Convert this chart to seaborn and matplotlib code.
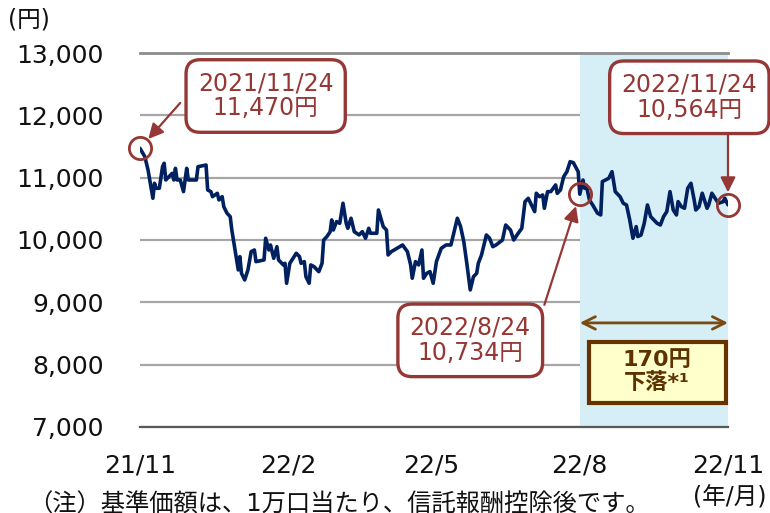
import pandas as pd
import matplotlib
matplotlib.use("Agg")
import matplotlib.pyplot as plt
from matplotlib.patches import Rectangle
import matplotlib.ticker as mticker
import seaborn as sns

# Data: days since 2021/11/24, NAV in yen
start_date = "2021-11-24"
day_offsets = [0, 3, 5, 8, 9, 10, 12, 14, 15, 16, 20, 21, 22, 23, 25, 27, 29, 30, 35, 36,
               41, 42, 44, 45, 48, 49, 51, 52, 54, 56, 57, 59, 61, 62, 63, 65, 67, 69, 71, 72,
               77, 78, 80, 81, 83, 85, 86, 89, 90, 91, 93, 95, 97, 99, 100, 102, 103, 105, 106, 108,
               111, 113, 114, 116, 118, 119, 120, 122, 124, 126, 128, 129, 131, 133, 136, 138, 140, 142, 143, 147,
               148, 151, 153, 154, 156, 163, 166, 168, 169, 171, 173, 175, 176, 178, 180, 182, 184, 187, 190, 193,
               197, 199, 201, 203, 205, 207, 209, 210, 212, 215, 217, 219, 221, 225, 227, 230, 232, 234, 237, 239,
               241, 243, 245, 246, 248, 250, 251, 253, 255, 258, 259, 261, 263, 265, 267, 269, 272, 273, 275, 276,
               277, 279, 281, 284, 286, 287, 291, 293, 295, 298, 300, 302, 304, 306, 308, 309, 311, 313, 315, 317,
               321, 323, 325, 327, 329, 331, 333, 334, 336, 338, 340, 342, 344, 345, 347, 349, 352, 353, 355, 357,
               359, 362, 363, 365]
nav = [11470, 11337, 11123, 10669, 10910, 10830, 10830, 11176, 11231, 10963, 11070, 10963, 11150, 10963, 10963, 10776, 11150, 10963, 10963, 11176,
       11203, 10803, 10776, 10695, 10749, 10642, 10695, 10535, 10430, 10375, 10160, 9840, 9520, 9733, 9466, 9359, 9520, 9813, 9840, 9653,
       9680, 10028, 9840, 9920, 9706, 9893, 9680, 9600, 9626, 9306, 9626, 9706, 9787, 9733, 9626, 9653, 9412, 9306, 9600, 9573,
       9492, 9626, 10000, 10055, 10130, 10322, 10160, 10295, 10268, 10590, 10268, 10188, 10349, 10134, 10081, 10134, 10028, 10188, 10108, 10108,
       10482, 10215, 10160, 9760, 9813, 9920, 9813, 9600, 9386, 9653, 9600, 9840, 9386, 9466, 9493, 9306, 9653, 9867, 9920, 9920,
       10349, 10215, 9973, 9600, 9199, 9412, 9466, 9626, 9760, 10081, 10028, 9893, 9920, 10000, 10241, 10160, 10000, 10080, 10188, 10615,
       10669, 10562, 10455, 10750, 10695, 10722, 10509, 10776, 10776, 10883, 10749, 10803, 11016, 11096, 11257, 11240, 11096, 10734, 10963, 10830,
       10880, 10642, 10562, 10430, 10402, 10937, 10990, 11096, 10776, 10695, 10589, 10562, 10322, 10028, 10215, 10055, 10080, 10268, 10562, 10375,
       10268, 10241, 10375, 10455, 10776, 10482, 10402, 10616, 10535, 10509, 10830, 10910, 10642, 10482, 10535, 10750, 10509, 10562, 10750, 10669,
       10589, 10615, 10669, 10564]

tick_dates = ["2021-11-24", "2022-02-24", "2022-05-24", "2022-08-24", "2022-11-24"]
tick_labels = ["21/11", "22/2", "22/5", "22/8", "22/11"]

points = ["2021-11-24", "2022-08-24", "2022-11-24"]
point_values = [11470, 10734, 10564]
point_labels = ["2021/11/24\n11,470円", "2022/8/24\n10,734円", "2022/11/24\n10,564円"]
drop_label = "170円\n下落*¹"

df = pd.DataFrame({"date": pd.Timestamp(start_date) + pd.to_timedelta(day_offsets, unit="D"),
                   "nav": nav})

sns.set_style("white")
plt.rcParams["font.family"] = ["DejaVu Sans", "Noto Sans CJK JP"]

red = "#953735"
brown = "#7A4A10"

fig = plt.figure(figsize=(7.7, 5.13), dpi=100)
ax = fig.add_axes([140/770, 86/513, 588/770, 374/513])

ax.axvspan(pd.Timestamp(points[1]), pd.Timestamp(points[2]), color="#D6EEF5", zorder=1, lw=0)
sns.lineplot(data=df, x="date", y="nav", ax=ax, color="#002060", lw=2.6, zorder=3)

ax.set_xlim(pd.Timestamp(tick_dates[0]), pd.Timestamp(tick_dates[-1]))
ax.set_ylim(7000, 13000)
ax.set_xlabel("")
ax.set_ylabel("")
ax.set_yticks(range(7000, 13001, 1000))
ax.yaxis.set_major_formatter(mticker.FuncFormatter(lambda v, p: f"{int(v):,}"))
ax.set_xticks(pd.to_datetime(tick_dates))
ax.set_xticklabels(tick_labels)
ax.tick_params(axis="y", length=0, pad=26, labelsize=18, labelcolor="#111")
ax.tick_params(axis="x", direction="in", length=7, width=1.2, color="#555",
               pad=19, labelsize=18, labelcolor="#111")
ax.set_axisbelow(True)
ax.grid(axis="y", color="#A6A6A6", lw=1.6)
ax.grid(axis="x", visible=False)
for s in ["left", "right"]:
    ax.spines[s].set_visible(False)
ax.spines["top"].set_color("#8C8C8C")
ax.spines["top"].set_linewidth(2)
ax.spines["bottom"].set_color("#595959")
ax.spines["bottom"].set_linewidth(1.6)

# circles on highlighted points
ax.plot(pd.to_datetime(points), point_values, "o", ms=16, mfc="none", mec=red, mew=2, zorder=5,
        clip_on=False)

# callout boxes
box = dict(boxstyle="round,pad=0.5,rounding_size=0.6", fc="white", ec=red, lw=2.4)
text_pos = [("2022-02-10", 12310), ("2022-06-17", 8390), ("2022-10-31", 12290)]
for (td, tv), lab in zip(text_pos, point_labels):
    ax.text(pd.Timestamp(td), tv, lab, ha="center", va="center", fontsize=17, color=red,
            linespacing=1.05, bbox=box, zorder=7, clip_on=False)

# arrows from box edges to the circles
arrow = dict(arrowstyle="-|>,head_length=0.9,head_width=0.45", color=red, lw=1.6, shrinkA=0, shrinkB=9)
arrow_starts = [("2021-12-19", 12200), ("2022-08-02", 8960), ("2022-11-24", 11770)]
for (d, v), (sd, sv) in zip(zip(points, point_values), arrow_starts):
    ax.annotate("", xy=(pd.Timestamp(d), v), xytext=(pd.Timestamp(sd), sv),
                arrowprops=arrow, zorder=6, annotation_clip=False)

# double arrow over the shaded period
ax.annotate("", xy=(pd.Timestamp(points[2]), 8670), xytext=(pd.Timestamp(points[1]), 8670),
            arrowprops=dict(arrowstyle="<->,head_length=0.9,head_width=0.45", color=brown, lw=2,
                            shrinkA=0, shrinkB=0), zorder=6)
fig.add_artist(Rectangle((589/770, (513-403)/513), 137/770, 61/513, transform=fig.transFigure,
                         fc="#FFFFCC", ec="#663300", lw=3, zorder=6))
fig.text(657/770, (513-372)/513, drop_label, ha="center", va="center", fontsize=16,
         fontweight="bold", color="#5C3300", linespacing=1.2, zorder=7)

fig.text(8/770, (513-19)/513, "(円)", ha="left", va="center", fontsize=17, color="#111")
fig.text(730/770, (513-498)/513, "(年/月)", ha="center", va="center", fontsize=17, color="#111")
fig.text(28/770, (513-505)/513, "（注）基準価額は、1万口当たり、信託報酬控除後です。", ha="left", va="center",
         fontsize=17.5, color="#111")

plt.savefig("out.png", dpi=100)
